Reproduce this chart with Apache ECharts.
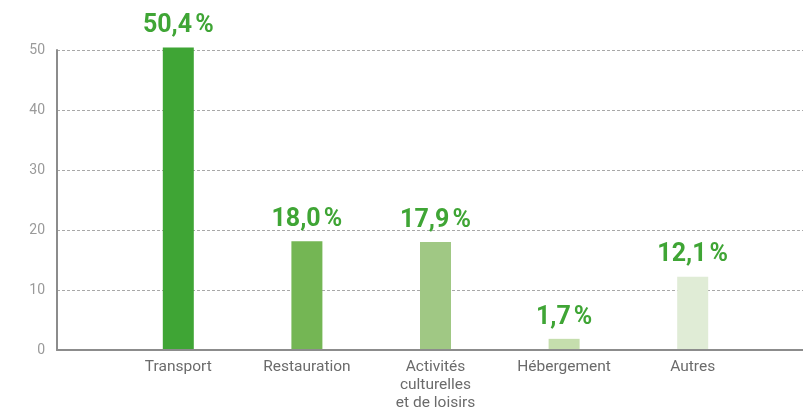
<!DOCTYPE html>
<html><head><meta charset="utf-8">
<script src="https://cdn.jsdelivr.net/npm/echarts@6/dist/echarts.min.js"></script>
<style>html,body{margin:0;padding:0;background:#fff}#c{width:803px;height:412px}</style>
</head><body><div id="c"></div>
<script>
const categories = ['Transport', 'Restauration', 'Activités\nculturelles\net de loisirs', 'Hébergement', 'Autres'];
const values = [50.4, 18.0, 17.9, 1.7, 12.1];
const barColors = ['#3fa535', '#74b654', '#a0c884', '#c5dead', '#e0ecd6'];
const yMin = 0, yMax = 50, yStep = 10;

const chart = echarts.init(document.getElementById('c'), null, {renderer: 'canvas'});
chart.setOption({
  animation: false,
  grid: [
    {left: 57, right: 0, top: 50, bottom: 62},
    {left: 114, right: 46, top: 50, bottom: 62}
  ],
  xAxis: [
    {gridIndex: 0, type: 'value', min: 0, max: 1, axisLabel: {show: false}, axisTick: {show: false}, splitLine: {show: false},
     axisLine: {show: true, lineStyle: {color: '#8c8c8c', width: 2}}},
    {gridIndex: 1, type: 'category', data: categories, axisLine: {show: false}, axisTick: {show: false},
     axisLabel: {color: '#6b6b6b', fontFamily: 'Roboto', fontSize: 15.5, lineHeight: 18, margin: 9, interval: 0}}
  ],
  yAxis: [
    {gridIndex: 0, type: 'value', min: yMin, max: yMax, interval: yStep,
     axisLine: {show: true, lineStyle: {color: '#8c8c8c', width: 2}}, axisTick: {show: false},
     axisLabel: {color: '#9a9a9a', fontFamily: 'Roboto', fontSize: 14, margin: 12},
     splitLine: {show: true, lineStyle: {color: '#a8a8a8', type: [3, 2], width: 1}}},
    {gridIndex: 1, type: 'value', min: yMin, max: yMax, show: false}
  ],
  series: [{
    type: 'bar', xAxisIndex: 1, yAxisIndex: 1, clip: false,
    barWidth: 31,
    data: values.map((v, i) => ({value: v, itemStyle: {color: barColors[i]}})),
    label: {show: true, position: 'top', distance: 9, color: '#3fa535', fontFamily: 'Roboto', fontWeight: 'bold', fontSize: 25,
      formatter: p => p.value.toFixed(1).replace('.', ',') + '\u202f%'}
  }]
});
</script></body></html>
